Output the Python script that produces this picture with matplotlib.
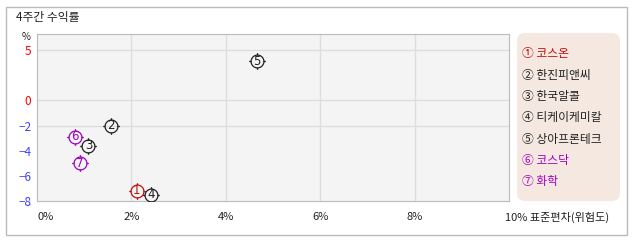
import numpy as np
import matplotlib.pyplot as plt
from matplotlib.path import Path
from matplotlib.patches import Rectangle, FancyBboxPatch
from matplotlib.transforms import ScaledTranslation

plt.rcParams['font.family'] = ['Noto Sans CJK KR', 'DejaVu Sans']

# data: x = std dev (%), y = 4-week return (%)
names = ['코스온', '한진피앤씨', '한국알콜', '티케이케미칼', '상아프론테크', '코스닥', '화학']
circled = ['①', '②', '③', '④', '⑤', '⑥', '⑦']
risk = [2.11, 1.57, 1.09, 2.42, 4.66, 0.80, 0.91]
ret = [-7.2, -2.0, -3.6, -7.5, 3.9, -2.9, -5.0]
colors = ['#c01010', '#222222', '#222222', '#222222', '#222222', '#a000c0', '#a000c0']

x_ticks = [0, 2, 4, 6, 8, 10]
x_labels = ['0%', '2%', '4%', '6%', '8%', '10% 표준편차(위험도)']
y_ticks = [5, 0, -2, -4, -6, -8]

W, H = 638, 242
fig = plt.figure(figsize=(W / 100, H / 100), dpi=100)

# outer frame
fig.patches.append(Rectangle((6 / W, 1 - 235 / H), 621 / W, 228 / H, transform=fig.transFigure,
                             fill=False, edgecolor='#bbbbbb', linewidth=1))
fig.text(16 / W, 1 - 17 / H, '4주간 수익률', fontsize=8.5, va='center', ha='left', color='#222222')

ax = fig.add_axes([37 / W, 1 - 201 / H, 472 / W, 167 / H])
ax.set_facecolor('#f4f4f4')

# negative side of y is stretched relative to positive
def fwd(v):
    v = np.asarray(v, dtype=float)
    return np.where(v >= 0, v, 1.25 * v)

def inv(v):
    v = np.asarray(v, dtype=float)
    return np.where(v >= 0, v, v / 1.25)

ax.set_yscale('function', functions=(fwd, inv))
ax.set_xlim(0, 10)
ax.set_ylim(-8, 6.6)

for xv in [2, 4, 6, 8]:
    ax.axvline(xv, color='#dddddd', lw=1, zorder=0)
for yv in [5, 0, -2]:
    ax.axhline(yv, color='#dddddd', lw=1, zorder=0)
for s in ax.spines.values():
    s.set_color('#bbbbbb')

ax.set_xticks(x_ticks)
ax.set_xticklabels(x_labels, fontsize=8, color='#222222')
ax.set_yticks(y_ticks)
ax.set_yticklabels([str(t).replace('-', '−') for t in y_ticks], fontsize=8.5)
ax.tick_params(length=0, pad=8)
ax.tick_params(axis='y', pad=4)
for lab, t in zip(ax.get_yticklabels(), y_ticks):
    lab.set_color('#ff0000' if t >= 0 else '#4040ff')
last = ax.get_xticklabels()[-1]
last.set_ha('left')
ax.get_xticklabels()[0].set_ha('left')
last.set_transform(last.get_transform() + ScaledTranslation(-3 / 72, 0, fig.dpi_scale_trans))

fig.text(26 / W, 1 - 37 / H, '%', fontsize=7, ha='center', va='center', color='#222222')

# marker: circle with four small ticks
theta = np.linspace(0, 2 * np.pi, 41)
verts = [(np.cos(t), np.sin(t)) for t in theta]
codes = [Path.MOVETO] + [Path.LINETO] * 40
for dx, dy in [(1, 0), (-1, 0), (0, 1), (0, -1)]:
    verts += [(dx, dy), (1.3 * dx, 1.3 * dy)]
    codes += [Path.MOVETO, Path.LINETO]
mark = Path(verts, codes)

for i in range(len(names)):
    ax.plot(risk[i], ret[i], marker=mark, ms=12, mfc='none', mec=colors[i], mew=0.9, ls='none', zorder=3)
    ax.text(risk[i], ret[i], str(i + 1), fontsize=8.5, color=colors[i], ha='center', va='center',
            family='DejaVu Sans', zorder=4)

# legend panel (drawn in inches so corners stay round)
fig.patches.append(FancyBboxPatch((5.17, 0.41), 1.03, 1.68, transform=fig.dpi_scale_trans,
                                  boxstyle='round,pad=0,rounding_size=0.08', facecolor='#f5e8e1',
                                  edgecolor='none'))
for i in range(len(names)):
    fig.text(522 / W, 1 - (54 + i * 21.3) / H, circled[i] + ' ' + names[i], fontsize=8.5,
             color=colors[i], ha='left', va='center')

fig.savefig('out.png', dpi=100)
